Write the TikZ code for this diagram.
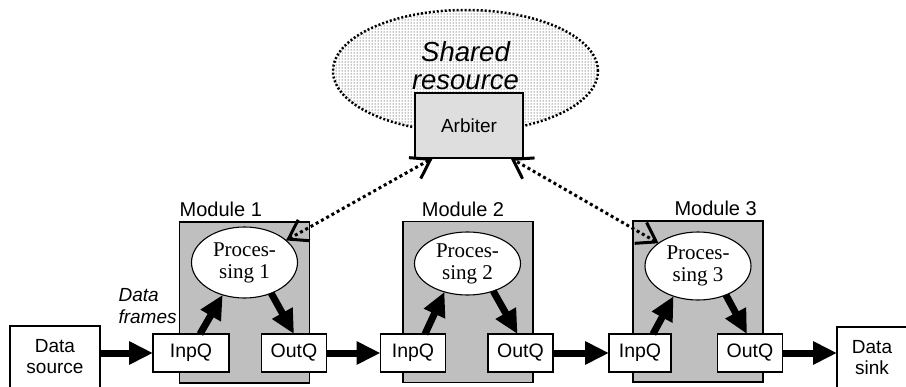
\documentclass[tikz,border=0pt]{standalone}
\usepackage{fontspec}
\setmainfont{Liberation Serif}
\setsansfont{Liberation Sans}
\usetikzlibrary{shapes.geometric,arrows.meta,patterns}

\begin{document}
\begin{tikzpicture}[x=1pt, y=-1pt,
  box/.style={rectangle, draw, line width=1.2pt, fill=white, inner sep=0pt, outer sep=0pt, align=center, font=\sffamily\fontsize{19}{21}\selectfont},
  queue/.style={box, minimum width=65pt, minimum height=38pt, font=\sffamily\fontsize{19.5}{21}\selectfont},
  module/.style={rectangle, draw, line width=1.2pt, fill=black!25, minimum width=130pt, minimum height=161pt, outer sep=0pt},
  proc/.style={ellipse, draw, line width=1.1pt, fill=white, minimum width=106pt, minimum height=68pt, inner sep=0pt, outer sep=0pt, align=center, font=\rmfamily\fontsize{21}{22}\selectfont},
  lbl/.style={font=\sffamily\fontsize{20}{22}\selectfont},
  bigarrow/.style={line width=7pt, -{Triangle[length=24pt, width=22pt]}},
  dotarrow/.style={line width=3pt, dash pattern=on 3pt off 3pt, {Straight Barb[length=18pt, width=24pt, line width=3pt]}-{Straight Barb[length=18pt, width=24pt, line width=3pt]}}
]
\useasboundingbox (0,0) rectangle (906,386);

% Shared resource and arbiter
\node[ellipse, draw, line width=2.5pt, dash pattern=on 2pt off 2pt, pattern=dots, pattern color=black, minimum width=265pt, minimum height=122pt, inner sep=0pt, text depth=10pt, align=center, font=\sffamily\itshape\fontsize{27.5}{28}\selectfont] (res) at (465.5,71) {Shared\\resource};
\node[box, fill=black!13, minimum width=108pt, minimum height=65pt] (arb) at (469,125.5) {Arbiter};

% Modules
\node[module] (mod1) at (244.5,302.5) {};
\node[module] (mod2) at (468,302) {};
\node[module] (mod3) at (698,301.5) {};
\node[lbl, anchor=south west, inner xsep=0pt, inner ysep=5pt] at (mod1.north west) {Module 1};
\node[lbl, anchor=south, inner ysep=5pt, xshift=-5pt] at (mod2.north) {Module 2};
\node[lbl, anchor=south east, inner xsep=6pt, inner ysep=5pt] at (mod3.north east) {Module 3};

\node[proc, minimum height=71pt] (proc1) at (244.5,262.5) {Proces-\\sing 1};
\node[proc, minimum height=63pt] (proc2) at (467.5,263.5) {Proces-\\sing 2};
\node[proc] (proc3) at (698,266) {Proces-\\sing 3};

\node[queue, minimum width=76pt] (inq1) at (191,353) {InpQ};
\node[queue] (outq1) at (294,353) {OutQ};
\node[queue] (inq2) at (413,353) {InpQ};
\node[queue] (outq2) at (520.5,353) {OutQ};
\node[queue, minimum width=62pt] (inq3) at (640,353) {InpQ};
\node[queue] (outq3) at (750,353) {OutQ};

% Source and sink
\node[box, minimum width=90pt, minimum height=62pt] (source) at (55,357) {Data\\source};
\node[box, minimum width=70pt, minimum height=61pt] (sink) at (872,357.5) {Data\\sink};
\node[lbl, font=\sffamily\itshape\fontsize{19}{22}\selectfont, align=left, anchor=west] (frames) at (115,306) {Data\\frames};

% Data path
\draw[bigarrow] (source.east |- inq1.west) -- (inq1.west);
\draw[bigarrow] (outq1) -- (inq2);
\draw[bigarrow] (outq2) -- (inq3);
\draw[bigarrow] (outq3.east) -- (outq3.east -| sink.west);

\draw[bigarrow] ([xshift=9pt]inq1.north) -- (proc1.-124);
\draw[bigarrow] (proc1.-49) -- (outq1.north);
\draw[bigarrow] ([xshift=12pt]inq2.north) -- (proc2.-129);
\draw[bigarrow] (proc2.-47) -- ([xshift=-3pt]outq2.north);
\draw[bigarrow] ([xshift=13pt]inq3.north) -- (proc3.-129);
\draw[bigarrow] (proc3.-46) -- ([xshift=-3pt]outq3.north);

% Arbitration
\draw[dotarrow] (proc1.28) -- (arb.222);
\draw[dotarrow] (proc3.150) -- (arb.-38);
\end{tikzpicture}
\end{document}
